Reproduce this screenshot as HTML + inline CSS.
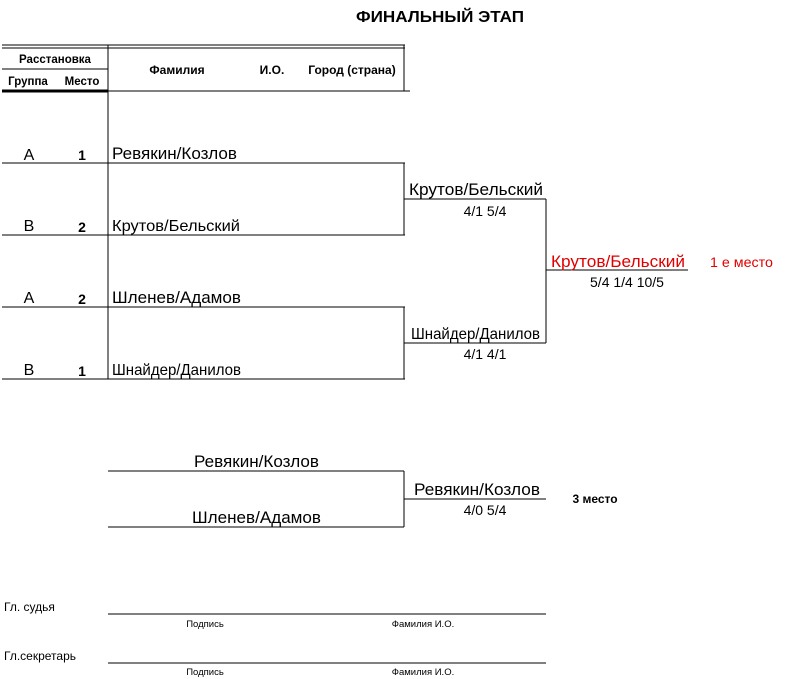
<!DOCTYPE html>
<html><head><meta charset="utf-8"><style>
html,body{margin:0;padding:0;background:#fff;}
svg{display:block;font-family:"Liberation Sans",Arial,sans-serif;}
</style></head><body>
<svg width="793" height="679" viewBox="0 0 793 679" xmlns="http://www.w3.org/2000/svg">
<g stroke="#000" stroke-width="1" fill="none" shape-rendering="crispEdges">
<line x1="2" y1="45" x2="405" y2="45"/>
<line x1="2" y1="48" x2="405" y2="48"/>
<line x1="2" y1="69" x2="108" y2="69"/>
<line x1="2" y1="91" x2="108" y2="91" stroke-width="3"/>
<line x1="108" y1="91" x2="410" y2="91"/>
<line x1="108" y1="45" x2="108" y2="379"/>
<line x1="404" y1="45" x2="404" y2="91"/>
<line x1="2" y1="163" x2="405" y2="163"/>
<line x1="2" y1="235" x2="405" y2="235"/>
<line x1="2" y1="307" x2="405" y2="307"/>
<line x1="2" y1="379" x2="405" y2="379"/>
<line x1="404" y1="163" x2="404" y2="235"/>
<line x1="404" y1="307" x2="404" y2="379"/>
<line x1="404" y1="199" x2="546" y2="199"/>
<line x1="404" y1="343" x2="546" y2="343"/>
<line x1="546" y1="199" x2="546" y2="343"/>
<line x1="546" y1="270" x2="688" y2="270"/>
<line x1="108" y1="471" x2="404" y2="471"/>
<line x1="108" y1="527" x2="404" y2="527"/>
<line x1="404" y1="471" x2="404" y2="527"/>
<line x1="404" y1="499" x2="546" y2="499"/>
<line x1="108" y1="614" x2="546" y2="614"/>
<line x1="108" y1="663" x2="546" y2="663"/>
</g>
<g fill="#000">
<text x="440" y="22" font-size="16" font-weight="bold" text-anchor="middle" textLength="168" lengthAdjust="spacingAndGlyphs">ФИНАЛЬНЫЙ ЭТАП</text>
<text x="55" y="63" font-size="11.5" font-weight="bold" text-anchor="middle">Расстановка</text>
<text x="28" y="85" font-size="11.5" font-weight="bold" text-anchor="middle">Группа</text>
<text x="82" y="85" font-size="11.5" font-weight="bold" text-anchor="middle">Место</text>
<text x="177" y="74" font-size="12" font-weight="bold" text-anchor="middle">Фамилия</text>
<text x="272" y="74" font-size="12" font-weight="bold" text-anchor="middle">И.О.</text>
<text x="352" y="74" font-size="12" font-weight="bold" text-anchor="middle">Город (страна)</text>

<text x="29" y="160" font-size="16" text-anchor="middle">А</text>
<text x="82" y="160" font-size="14" font-weight="bold" text-anchor="middle">1</text>
<text x="112" y="159" font-size="17" textLength="125" lengthAdjust="spacingAndGlyphs">Ревякин/Козлов</text>
<text x="29" y="231" font-size="16" text-anchor="middle">В</text>
<text x="82" y="232" font-size="14" font-weight="bold" text-anchor="middle">2</text>
<text x="112" y="231" font-size="16" textLength="128" lengthAdjust="spacingAndGlyphs">Крутов/Бельский</text>
<text x="29" y="303" font-size="16" text-anchor="middle">А</text>
<text x="82" y="304" font-size="14" font-weight="bold" text-anchor="middle">2</text>
<text x="112" y="303" font-size="17" textLength="129" lengthAdjust="spacingAndGlyphs">Шленев/Адамов</text>
<text x="29" y="375" font-size="16" text-anchor="middle">В</text>
<text x="82" y="376" font-size="14" font-weight="bold" text-anchor="middle">1</text>
<text x="112" y="375" font-size="16" textLength="129" lengthAdjust="spacingAndGlyphs">Шнайдер/Данилов</text>

<text x="409" y="195" font-size="17" textLength="134" lengthAdjust="spacingAndGlyphs">Крутов/Бельский</text>
<text x="485" y="216" font-size="14" text-anchor="middle">4/1 5/4</text>
<text x="411" y="339" font-size="16" textLength="129" lengthAdjust="spacingAndGlyphs">Шнайдер/Данилов</text>
<text x="485" y="359" font-size="14" text-anchor="middle">4/1 4/1</text>
<text x="551" y="267" font-size="17" fill="#e00000" textLength="134" lengthAdjust="spacingAndGlyphs">Крутов/Бельский</text>
<text x="710" y="267" font-size="14" fill="#e00000" textLength="63" lengthAdjust="spacingAndGlyphs">1 е место</text>
<text x="627" y="287" font-size="14" text-anchor="middle">5/4 1/4 10/5</text>

<text x="194" y="467" font-size="17" textLength="125" lengthAdjust="spacingAndGlyphs">Ревякин/Козлов</text>
<text x="192" y="523" font-size="17" textLength="129" lengthAdjust="spacingAndGlyphs">Шленев/Адамов</text>
<text x="414" y="495" font-size="17" textLength="126" lengthAdjust="spacingAndGlyphs">Ревякин/Козлов</text>
<text x="485" y="515" font-size="14" text-anchor="middle">4/0 5/4</text>
<text x="595" y="503" font-size="12" font-weight="bold" text-anchor="middle">3 место</text>

<text x="4" y="611" font-size="12">Гл. судья</text>
<text x="205" y="627" font-size="9.5" text-anchor="middle">Подпись</text>
<text x="423" y="627" font-size="9.5" text-anchor="middle">Фамилия И.О.</text>
<text x="4" y="660" font-size="12">Гл.секретарь</text>
<text x="205" y="675" font-size="9.5" text-anchor="middle">Подпись</text>
<text x="423" y="675" font-size="9.5" text-anchor="middle">Фамилия И.О.</text>
</g>
</svg>
</body></html>
